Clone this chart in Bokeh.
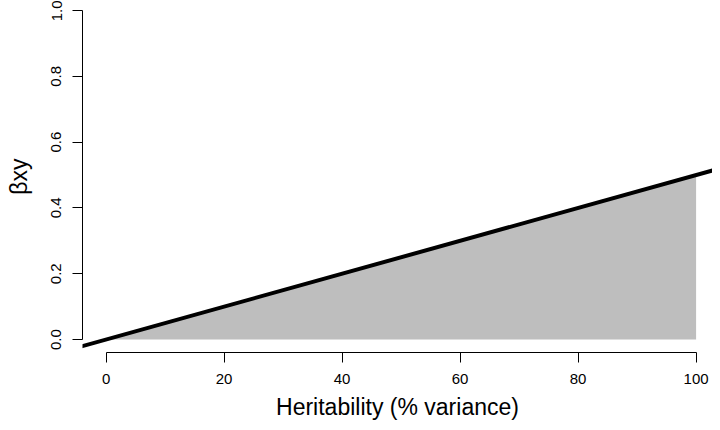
from bokeh.plotting import figure
from bokeh.models import Range1d, FixedTicker, NumeralTickFormatter, Slope
from bokeh.embed import file_html
from bokeh.resources import INLINE

# Data
heritability_pct = [0, 20, 40, 60, 80, 100]
beta_xy = [0.0, 0.1, 0.2, 0.3, 0.4, 0.5]
x_ticks = [0, 20, 40, 60, 80, 100]
y_ticks = [0.0, 0.2, 0.4, 0.6, 0.8, 1.0]
x_title = "Heritability (% variance)"
y_title = "βxy"

FONT = "Liberation Sans"

p = figure(width=712, height=422, output_backend="svg", toolbar_location=None,
           x_range=Range1d(-4, 102.78), y_range=Range1d(-0.0394, 1.0303),
           min_border_left=82, min_border_right=0, min_border_top=0, min_border_bottom=69)
p.outline_line_color = None
p.xgrid.visible = False
p.ygrid.visible = False
p.background_fill_color = "white"
p.border_fill_color = "white"

# shaded region under the relationship
p.varea(x=heritability_pct, y1=[0] * len(heritability_pct), y2=beta_xy, fill_color="#BEBEBE")

# full-width line (abline)
gradient = (beta_xy[-1] - beta_xy[0]) / (heritability_pct[-1] - heritability_pct[0])
p.add_layout(Slope(gradient=gradient, y_intercept=beta_xy[0], line_color="black", line_width=4))

for ax in (p.xaxis[0], p.yaxis[0]):
    ax.axis_line_color = "black"
    ax.axis_line_width = 1
    ax.major_tick_line_color = "black"
    ax.major_tick_out = 10
    ax.major_tick_in = 0
    ax.minor_tick_line_color = None
    ax.major_label_text_font = FONT
    ax.major_label_text_font_size = "15px"
    ax.major_label_text_color = "black"
    ax.axis_label_text_font = FONT
    ax.axis_label_text_font_size = "23px"
    ax.axis_label_text_font_style = "normal"
    ax.axis_label_text_color = "black"

p.xaxis.bounds = (x_ticks[0], x_ticks[-1])
p.xaxis.ticker = FixedTicker(ticks=x_ticks)
p.xaxis.major_label_standoff = 11
p.xaxis.axis_label = x_title
p.xaxis.axis_label_standoff = 7
p.xaxis.axis_label_text_line_height = 1.0

p.yaxis.bounds = (y_ticks[0], y_ticks[-1])
p.yaxis.ticker = FixedTicker(ticks=y_ticks)
p.yaxis.formatter = NumeralTickFormatter(format="0.0")
p.yaxis.major_label_orientation = "vertical"
p.yaxis.major_label_standoff = 11
p.yaxis.axis_label = y_title
p.yaxis.axis_label_standoff = 17

open("out.html", "w").write(file_html(p, INLINE))
